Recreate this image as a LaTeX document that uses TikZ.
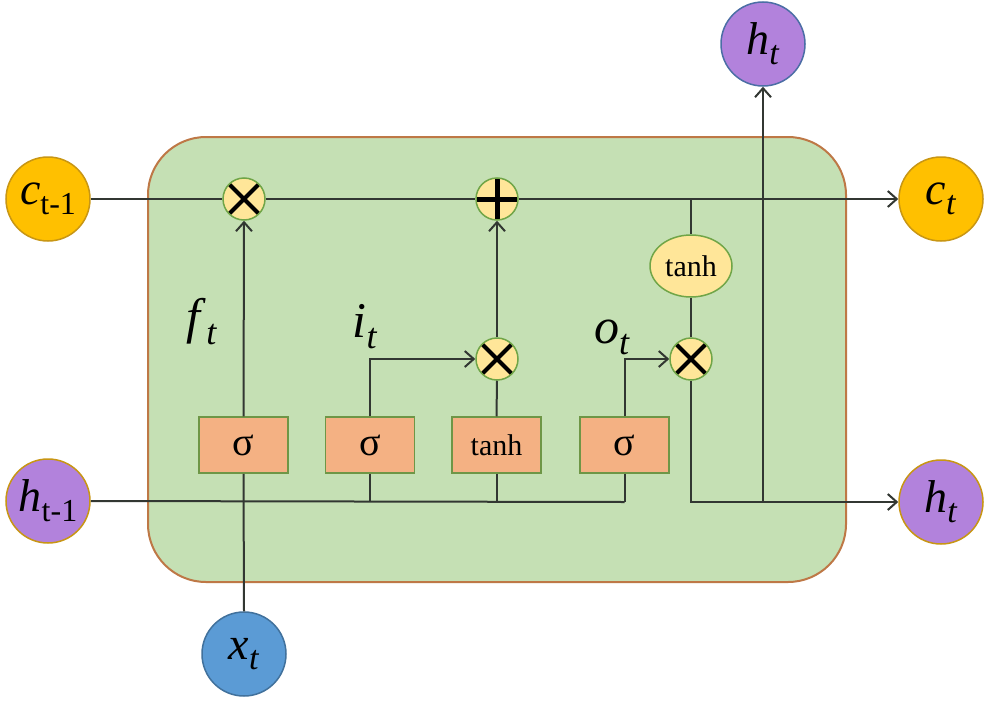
\documentclass[tikz,border=0pt]{standalone}
\usepackage{fontspec}
\setmainfont{Liberation Serif}
\usetikzlibrary{arrows.meta,shapes.geometric,calc}
\definecolor{cellfill}{RGB}{197,224,180}
\definecolor{celldraw}{RGB}{190,120,70}
\definecolor{orangec}{RGB}{255,192,0}
\definecolor{oranged}{RGB}{200,150,20}
\definecolor{purplec}{RGB}{178,130,220}
\definecolor{blued}{RGB}{75,110,165}
\definecolor{bluec}{RGB}{91,155,213}
\definecolor{bluexd}{RGB}{65,113,156}
\definecolor{gatefill}{RGB}{255,230,153}
\definecolor{gatedraw}{RGB}{112,165,71}
\definecolor{boxfill}{RGB}{244,177,131}
\definecolor{boxdraw}{RGB}{110,150,70}
\definecolor{linec}{RGB}{50,55,50}
\newcommand\mainvar[2]{{\fontsize{46}{46}\selectfont\textit{#1}\raisebox{-10pt}{\fontsize{34}{34}\selectfont\textit{#2}}}}
\newcommand\prevvar[1]{{\fontsize{46}{46}\selectfont\textit{#1}\raisebox{-10pt}{\fontsize{32}{32}\selectfont t-1}}}
\newcommand\gatevar[2]{{\fontsize{50}{50}\selectfont\textit{#1}\raisebox{-11pt}{\fontsize{36}{36}\selectfont\textit{#2}}}}
\tikzset{
  iocirc/.style={circle, minimum size=84pt, inner sep=0pt, line width=1.5pt},
  orangenode/.style={iocirc, fill=orangec, draw=oranged},
  purplenode/.style={iocirc, fill=purplec, draw=oranged},
  purpletop/.style={iocirc, fill=purplec, draw=blued},
  bluenode/.style={iocirc, fill=bluec, draw=bluexd},
  multnode/.style={circle, minimum size=42pt, inner sep=0pt, fill=gatefill, draw=gatedraw, line width=1.5pt,
    path picture={\draw[line width=4pt, black] ($(path picture bounding box.center)+(-14.5,-14.5)$) -- ($(path picture bounding box.center)+(14.5,14.5)$);
                  \draw[line width=4pt, black] ($(path picture bounding box.center)+(-14.5,14.5)$) -- ($(path picture bounding box.center)+(14.5,-14.5)$);}},
  plusnode/.style={circle, minimum size=42pt, inner sep=0pt, fill=gatefill, draw=gatedraw, line width=1.5pt,
    path picture={\draw[line width=5pt, black] ($(path picture bounding box.center)+(-22,0)$) -- ($(path picture bounding box.center)+(22,0)$);
                  \draw[line width=5pt, black] ($(path picture bounding box.center)+(0,-22)$) -- ($(path picture bounding box.center)+(0,22)$);}},
  gatebox/.style={rectangle, minimum width=89pt, minimum height=56pt, inner sep=0pt, fill=boxfill, draw=boxdraw, line width=1.5pt, font=\fontsize{30}{30}\selectfont},
  sigtext/.style={font=\fontsize{40}{40}\selectfont},
  tanhell/.style={ellipse, minimum width=82pt, minimum height=62pt, inner sep=0pt, fill=gatefill, draw=gatedraw, line width=1.5pt, font=\fontsize{30}{30}\selectfont},
  conn/.style={draw=linec, line width=2pt},
  arr/.style={conn, -{Straight Barb[length=9pt,width=16pt,line width=2pt]}},
  lbl/.style={inner sep=0pt}
}
\begin{document}
\begin{tikzpicture}[x=1pt,y=-1pt]
\useasboundingbox (0,0) rectangle (987,701);
\fill[white] (0,0) rectangle (987,701);
% cell
\draw[fill=cellfill, draw=celldraw, line width=2pt, rounded corners=58pt] (148,137) rectangle (846,582);

% io nodes
\node[orangenode] (cprev) at (48,199) {\prevvar{c}};
\node[orangenode] (ct) at (941,199) {\mainvar{c}{t}};
\node[purplenode] (hprev) at (48,501) {\prevvar{h}};
\node[purplenode] (ht) at (941,502) {\mainvar{h}{t}};
\node[purpletop] (htop) at (763,44) {\mainvar{h}{t}};
\node[bluenode] (xt) at (244,654) {\mainvar{x}{t}};

% gates
\node[multnode] (m1) at (244,199) {};
\node[plusnode] (plus) at (497,199) {};
\node[multnode] (m2) at (497,359) {};
\node[multnode] (m3) at (691,359) {};
\node[tanhell] (th) at (691,266) {tanh};

\node[gatebox, sigtext] (s1) at (243.5,445) {σ};
\node[gatebox, sigtext] (s2) at (370,445) {σ};
\node[gatebox] (tb) at (496.5,445) {tanh};
\node[gatebox, sigtext] (s3) at (624.5,445) {σ};

% labels
\node[lbl] (lf) at (202,322) {\gatevar{f}{t}};
\node[lbl] (li) at (365,327) {\gatevar{i}{t}};
\node[lbl] (lo) at (612,337) {\gatevar{o}{t}};

% coordinates
\coordinate (tj) at (691,199);
\coordinate (hj) at (763,502);
\coordinate (b2) at (370,502);
\coordinate (bt) at (496.5,502);
\coordinate (b3) at (624.5,502);

% connectors
\draw[conn] (cprev.east) -- (m1.west);
\draw[conn] (m1.east) -- (plus.west);
\draw[arr] (plus.east) -- (ct.west);
\draw[arr] (s1.north) -- (m1.south);
\draw[arr] (m2.north) -- (plus.south);
\draw[conn] (tb.north) -- (m2.south);
\draw[arr] (s2.north) |- (m2.west);
\draw[arr] (s3.north) |- (m3.west);
\draw[conn] (tj) -- (th.north);
\draw[conn] (th.south) -- (m3.north);
\draw[arr] (m3.south) |- (ht.west);
\draw[arr] (hj) -- (htop.south);
\draw[conn] (hprev.east) -- (b3);
\draw[conn] (xt.north) -- (s1.south);
\draw[conn] (s2.south) -- (b2);
\draw[conn] (tb.south) -- (bt);
\draw[conn] (s3.south) -- (b3);
\end{tikzpicture}
\end{document}
